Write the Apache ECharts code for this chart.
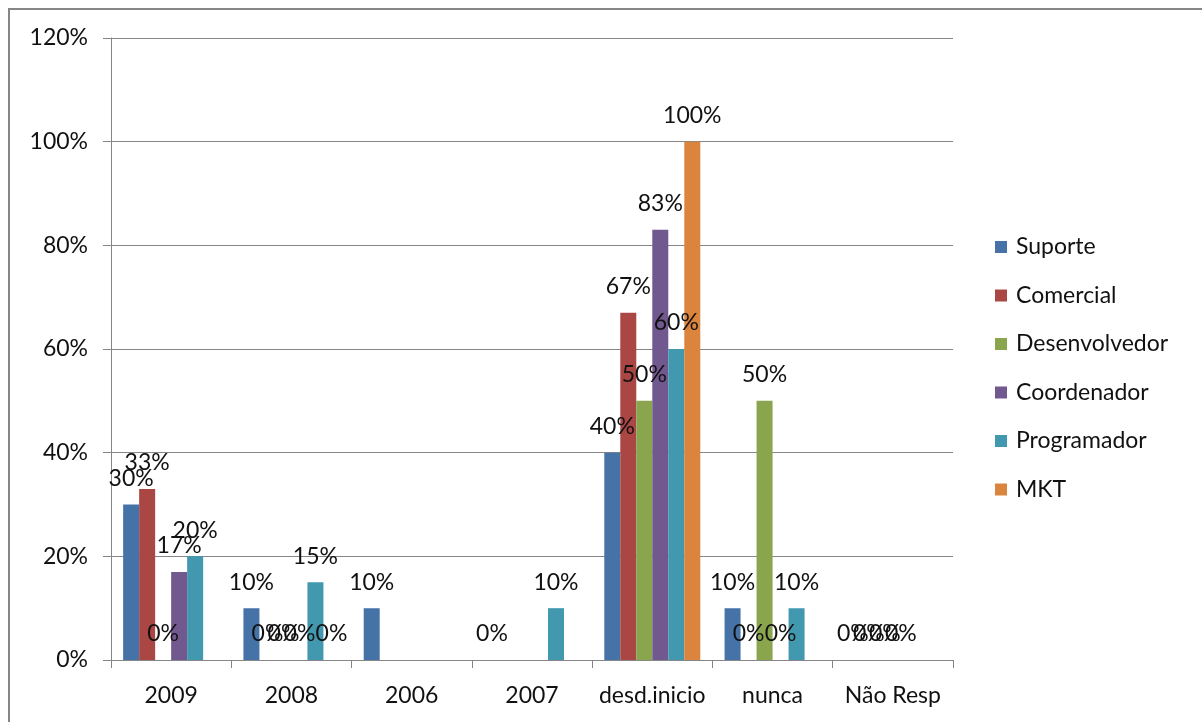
<!DOCTYPE html>
<html>
<head>
<meta charset="utf-8">
<script src="https://cdn.jsdelivr.net/npm/echarts@6/dist/echarts.min.js"></script>
<style>
html,body{margin:0;padding:0;background:#fff;}
#c{width:1202px;height:722px;}
</style>
</head>
<body>
<div id="c"></div>
<script>
var categories = ['2009', '2008', '2006', '2007', 'desd.inicio', 'nunca', 'Não Resp'];
var seriesNames = ['Suporte', 'Comercial', 'Desenvolvedor', 'Coordenador', 'Programador', 'MKT'];
var suporte       = [30, 10, 10, 0, 40, 10, 0];
var comercial     = [33, 0, null, null, 67, 0, 0];
var desenvolvedor = [0, 0, null, null, 50, 50, 0];
var coordenador   = [17, 0, null, null, 83, 0, 0];
var programador   = [20, 15, null, 10, 60, 10, null];
var mkt           = [null, 0, null, null, 100, null, null];
var yTicks = [0, 20, 40, 60, 80, 100, 120];

var colors = ['#4572A7', '#AA4643', '#89A54E', '#71588F', '#4198AF', '#DB843D'];
var values = [suporte, comercial, desenvolvedor, coordenador, programador, mkt];
var FONT = 'Lato';
var FS = 23;

var chart = echarts.init(document.getElementById('c'));
var series = seriesNames.map(function (n, i) {
  return {
    name: n,
    type: 'bar',
    data: values[i],
    barWidth: 16,
    barGap: '0%',
    itemStyle: { color: colors[i] },
    label: {
      show: true,
      position: 'top',
      distance: 14,
      formatter: function (p) { return p.value + '%'; },
      color: '#111',
      fontFamily: FONT,
      fontSize: FS,
      lineHeight: 24
    }
  };
});

chart.setOption({
  animation: false,
  color: colors,
  graphic: [{
    type: 'rect',
    shape: { x: 9, y: 9, width: 1210, height: 730 },
    style: { fill: 'none', stroke: '#868686', lineWidth: 2 },
    silent: true
  }],
  grid: { left: 111, right: 249, top: 38, bottom: 62 },
  legend: {
    orient: 'vertical',
    left: 995,
    top: 234,
    padding: 0,
    itemWidth: 12,
    itemHeight: 12,
    itemGap: 22.5,
    icon: 'rect',
    data: seriesNames,
    textStyle: { fontFamily: FONT, fontSize: FS, lineHeight: 26, color: '#111', padding: [0, 0, 0, 4] }
  },
  xAxis: {
    type: 'category',
    data: categories,
    axisLine: { lineStyle: { color: '#868686', width: 1 } },
    axisTick: { show: true, length: 8, alignWithLabel: false, lineStyle: { color: '#868686' } },
    axisLabel: { interval: 0, fontFamily: FONT, fontSize: FS, color: '#111', margin: 24 }
  },
  yAxis: {
    type: 'value',
    min: yTicks[0],
    max: yTicks[yTicks.length - 1],
    interval: 20,
    axisLine: { show: true, lineStyle: { color: '#868686', width: 1 } },
    axisTick: { show: true, length: 8, lineStyle: { color: '#868686' } },
    axisLabel: { formatter: '{value}%', fontFamily: FONT, fontSize: FS, color: '#111', margin: 23 },
    splitLine: { show: true, lineStyle: { color: '#868686', width: 1 } }
  },
  series: series
});
</script>
</body>
</html>
